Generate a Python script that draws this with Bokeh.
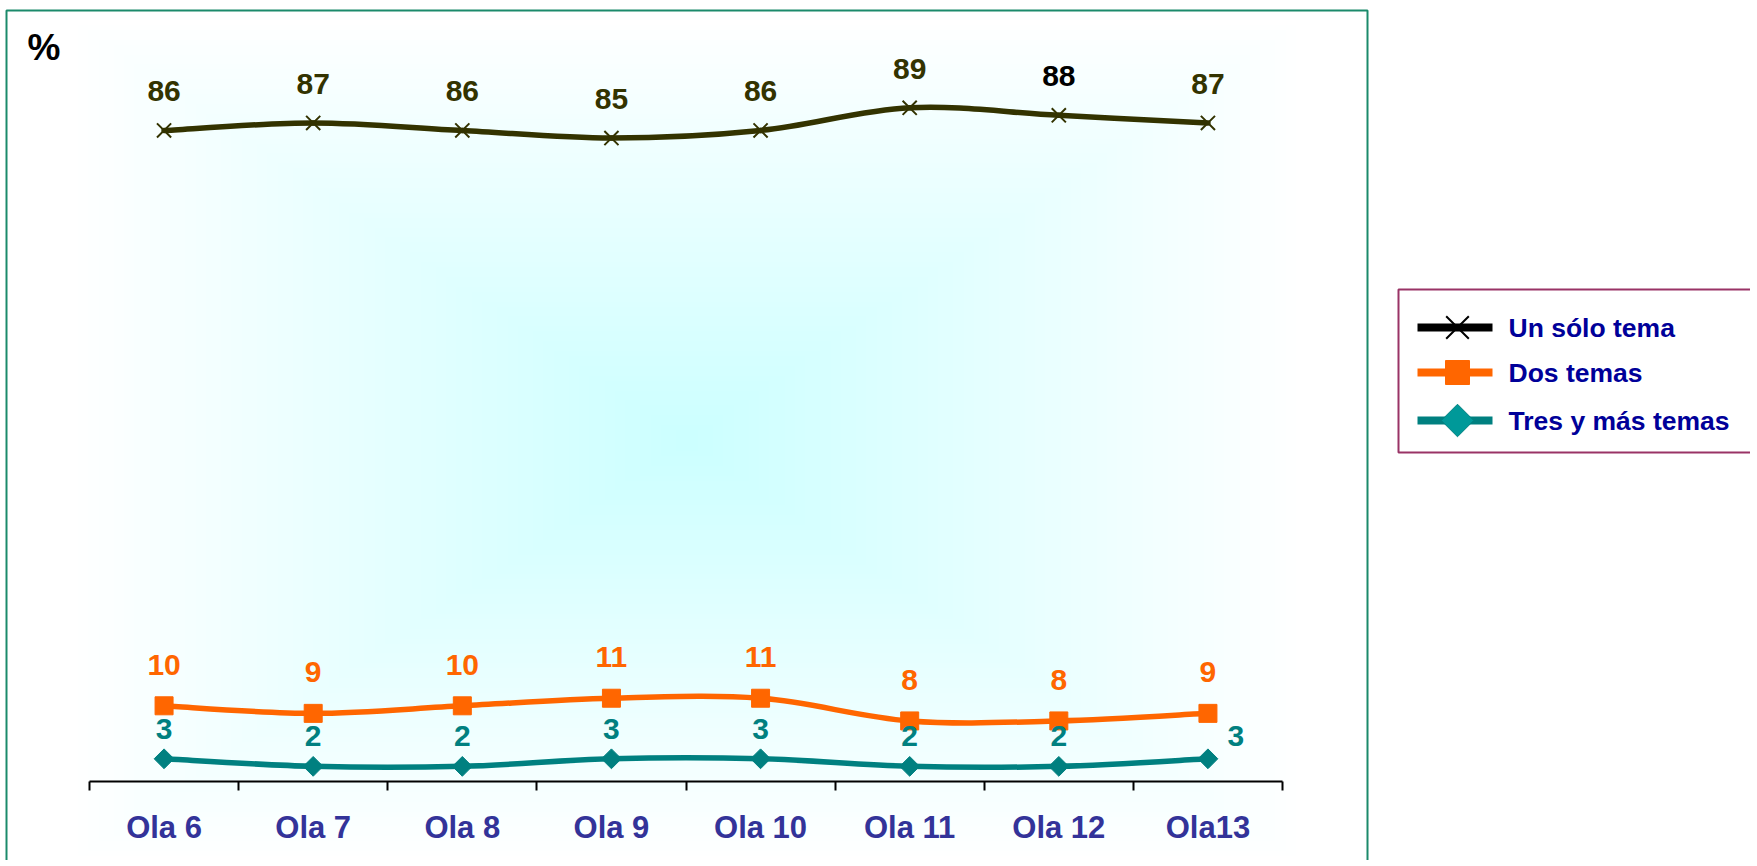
import numpy as np
from bokeh.plotting import figure
from bokeh.models import Range1d, LinearAxis, FixedTicker, ColumnDataSource, LabelSet
from bokeh.embed import file_html
from bokeh.resources import INLINE
from bokeh.core.properties import value

# ---------------- data ----------------
categories = ["Ola 6", "Ola 7", "Ola 8", "Ola 9", "Ola 10", "Ola 11", "Ola 12", "Ola13"]
un_solo_tema = [86, 87, 86, 85, 86, 89, 88, 87]
dos_temas = [10, 9, 10, 11, 11, 8, 8, 9]
tres_y_mas_temas = [3, 2, 2, 3, 3, 2, 2, 3]
series_names = ["Un sólo tema", "Dos temas", "Tres y más temas"]

# ---------------- styles ----------------
FONT = "Liberation Sans"
C_UNO = "#333300"
C_DOS = "#FF6600"
C_TRES = "#008080"
un_solo_label_colors = [C_UNO, C_UNO, C_UNO, C_UNO, C_UNO, C_UNO, "#000000", C_UNO]

# ---------------- geometry (canvas pixels) ----------------
W, H = 1750, 860
n = len(categories)
X0_PX, XN_PX = 89, 1282          # category axis start / end
Y0_PX = 781                      # value 0
PX_PER_UNIT_Y = 7.57
PX_PER_CAT = (XN_PX - X0_PX) / n

x_range = Range1d(-X0_PX / PX_PER_CAT, (W - X0_PX) / PX_PER_CAT)
y_range = Range1d(-(H - Y0_PX) / PX_PER_UNIT_Y, Y0_PX / PX_PER_UNIT_Y)


def dx(cx):
    return (cx - X0_PX) / PX_PER_CAT


def dy(cy):
    return (Y0_PX - cy) / PX_PER_UNIT_Y


p = figure(width=W, height=H, x_range=x_range, y_range=y_range,
           output_backend="svg", toolbar_location=None,
           x_axis_location=None, y_axis_location=None, min_border=0,
           outline_line_color=None, background_fill_color="white",
           border_fill_color="white")
p.grid.visible = False

# ---------------- plot-area gradient (from centre) ----------------
gl, gr, gt, gb = 73, 1300, 20, 860
nx, ny = 240, 170
u = np.linspace(-1, 1, nx)[None, :]
v = np.linspace(-1, 1, ny)[:, None]
t = np.clip(np.maximum(np.abs(u), np.abs(v)), 0, 1)
centre = np.array([204, 255, 255])
edge = np.array([255, 255, 255])
img = np.empty((ny, nx), dtype=np.uint32)
view = img.view(dtype=np.uint8).reshape((ny, nx, 4))
for k in range(3):
    view[:, :, k] = (centre[k] * (1 - t) + edge[k] * t).astype(np.uint8)
view[:, :, 3] = 255
p.image_rgba(image=[img], x=dx(gl), y=dy(gb), dw=dx(gr) - dx(gl), dh=dy(gt) - dy(gb))

# ---------------- chart border & legend box ----------------
p.quad(left=dx(6), right=dx(1367), top=dy(10), bottom=dy(H + 30),
       fill_color=None, line_color="#1B8A6B", line_width=2)
p.quad(left=dx(1398), right=dx(W + 30), top=dy(289), bottom=dy(452),
       fill_color=None, line_color="#993366", line_width=2)

# ---------------- axis ----------------
centres = [i + 0.5 for i in range(n)]
axis = LinearAxis(fixed_location=0, bounds=(0, n))
axis.ticker = FixedTicker(ticks=centres, minor_ticks=list(range(n + 1)))
axis.major_label_overrides = {c: lab for c, lab in zip(centres, categories)}
axis.major_tick_line_color = None
axis.major_tick_out = 0
axis.major_tick_in = 0
axis.minor_tick_line_color = "black"
axis.minor_tick_line_width = 2
axis.minor_tick_out = 9
axis.minor_tick_in = 0
axis.axis_line_color = "black"
axis.axis_line_width = 2
axis.major_label_text_font = FONT
axis.major_label_text_font_style = "bold"
axis.major_label_text_font_size = "31px"
axis.major_label_text_color = "#333399"
axis.major_label_standoff = 19
p.add_layout(axis, "below")


# ---------------- smoothed lines ----------------
def smooth(xs, ys):
    xs = np.asarray(xs, float)
    ys = np.asarray(ys, float)
    m = len(xs)
    seg = dict(x0=[], y0=[], x1=[], y1=[], cx0=[], cy0=[], cx1=[], cy1=[])
    for i in range(m - 1):
        a = i - 1 if i > 0 else i
        b = i + 2 if i + 2 < m else i + 1
        seg["x0"].append(xs[i]); seg["y0"].append(ys[i])
        seg["x1"].append(xs[i + 1]); seg["y1"].append(ys[i + 1])
        seg["cx0"].append(xs[i] + (xs[i + 1] - xs[a]) / 6)
        seg["cy0"].append(ys[i] + (ys[i + 1] - ys[a]) / 6)
        seg["cx1"].append(xs[i + 1] - (xs[b] - xs[i]) / 6)
        seg["cy1"].append(ys[i + 1] - (ys[b] - ys[i]) / 6)
    return ColumnDataSource(seg)


for vals, col in [(un_solo_tema, C_UNO), (dos_temas, C_DOS), (tres_y_mas_temas, C_TRES)]:
    p.bezier(x0="x0", y0="y0", x1="x1", y1="y1", cx0="cx0", cy0="cy0",
             cx1="cx1", cy1="cy1", source=smooth(centres, vals),
             line_color=col, line_width=5.5, line_cap="round")

p.scatter(centres, un_solo_tema, marker="x", size=20, line_color=C_UNO, line_width=2)
p.scatter(centres, dos_temas, marker="square", size=18, fill_color=C_DOS, line_color=C_DOS)
p.scatter(centres, tres_y_mas_temas, marker="square", angle=np.pi / 4, size=14,
          fill_color=C_TRES, line_color=C_TRES)

# ---------------- data labels ----------------
def add_labels(vals, colors, xoff, yoff):
    src = ColumnDataSource(dict(x=centres, y=vals, t=[str(v) for v in vals],
                                c=colors, xo=xoff, yo=yoff))
    p.add_layout(LabelSet(x="x", y="y", text="t", source=src, text_color="c",
                          x_offset="xo", y_offset="yo", text_align="center",
                          text_baseline="middle", text_font=value(FONT),
                          text_font_style="bold", text_font_size="30px"))


add_labels(un_solo_tema, un_solo_label_colors, [0] * n, [39] * n)
add_labels(dos_temas, [C_DOS] * n, [0] * n, [41] * n)
add_labels(tres_y_mas_temas, [C_TRES] * n, [0] * (n - 1) + [28], [30] * (n - 1) + [23])

# ---------------- "%" ----------------
p.text(x=[dx(27)], y=[dy(47)], text=["%"], text_font=value(FONT), text_font_style="bold",
       text_font_size="37px", text_color="black", text_baseline="middle",
       text_align="left")

# ---------------- legend (drawn) ----------------
leg_y = [327, 372, 420]
leg_line_cols = ["#000000", C_DOS, "#008080"]
for cy, col in zip(leg_y, leg_line_cols):
    p.segment(x0=[dx(1417)], y0=[dy(cy)], x1=[dx(1492)], y1=[dy(cy)],
              line_color=col, line_width=8)
p.scatter([dx(1457)], [dy(leg_y[0])], marker="x", size=32, line_color="black", line_width=2)
p.scatter([dx(1457)], [dy(leg_y[1])], marker="square", size=24, fill_color=C_DOS, line_color=C_DOS)
p.scatter([dx(1457)], [dy(leg_y[2])], marker="square", angle=np.pi / 4, size=23,
          fill_color="#009999", line_color="#008080")
p.text(x=[dx(1508)] * 3, y=[dy(cy) for cy in leg_y], text=series_names,
       text_font=value(FONT), text_font_style="bold", text_font_size="26.5px",
       text_color="#000099", text_baseline="middle", text_align="left")

open("out.html", "w").write(file_html(p, INLINE))
